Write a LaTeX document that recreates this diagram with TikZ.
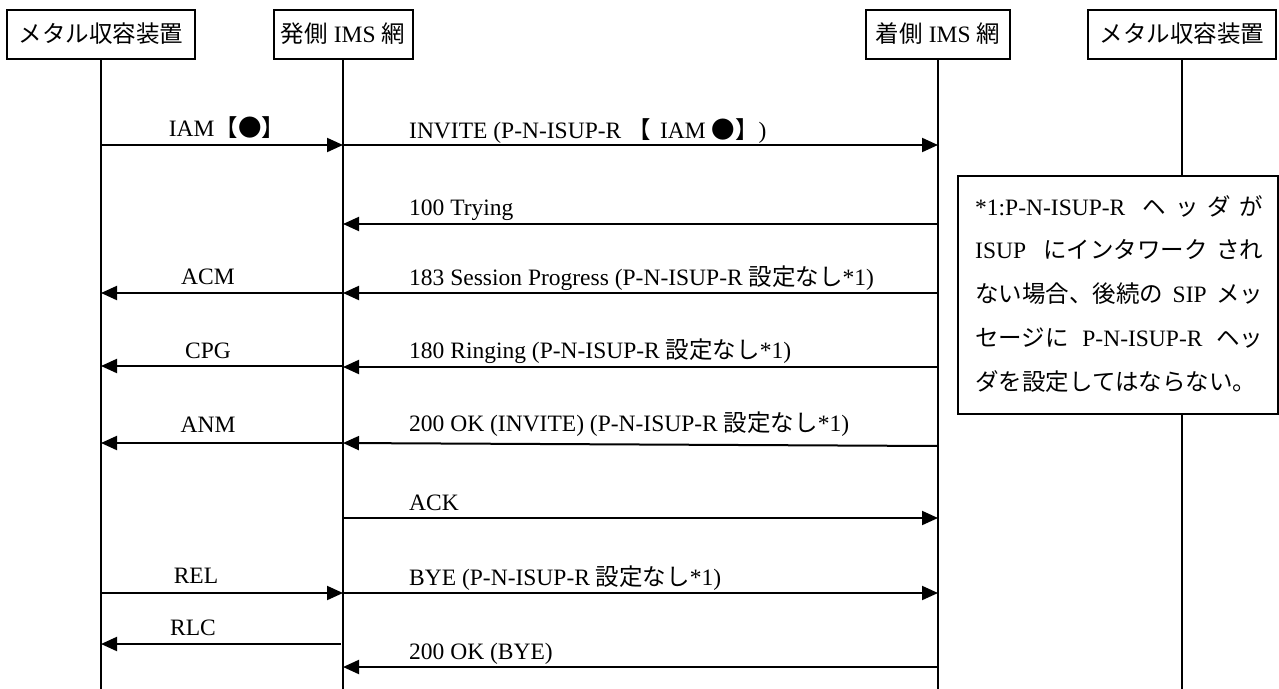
\documentclass[tikz,border=0pt]{standalone}
\usepackage{fontspec}
\setmainfont{Liberation Serif}
\newfontfamily\jp{Noto Sans CJK JP}
\usetikzlibrary{arrows.meta}
\newcommand\J[1]{{\jp #1}}
\begin{document}
\begin{tikzpicture}[x=1pt,y=-1pt,
  font=\fontsize{23.5}{28}\selectfont,
  hdr/.style={draw,line width=2pt,fill=white,minimum height=49pt,inner sep=0pt},
  life/.style={line width=2.5pt},
  msg/.style={line width=2pt,-{Triangle[length=16pt,width=14pt]}},
  lbl/.style={anchor=base west,inner sep=0pt},
  clbl/.style={anchor=base,inner sep=0pt},
  notetxt/.style={anchor=base west,inner sep=0pt}]
\useasboundingbox (0,0) rectangle (1279,688);
% headers
\node[hdr,minimum width=188pt] (m1) at (101,34) {\J{メタル収容装置}};
\node[hdr,minimum width=139pt] (o) at (343,34) {\J{発側} IMS \J{網}};
\node[hdr,minimum width=144pt] (t) at (938,34) {\J{着側} IMS \J{網}};
\node[hdr,minimum width=188pt] (m2) at (1182,34) {\J{メタル収容装置}};
% lifelines
\coordinate (m1b) at (m1.south |- 0,689);
\coordinate (ob) at (o.south |- 0,689);
\coordinate (tb) at (t.south |- 0,689);
\coordinate (m2b) at (m2.south |- 0,689);
\draw[life] (m1.south) -- (m1b);
\draw[life] (o.south) -- (ob);
\draw[life] (t.south) -- (tb);
\draw[life] (m2.south) -- (m2b);
% note box
\node[draw,line width=2pt,fill=white,minimum width=320pt,minimum height=238pt,anchor=north west,inner sep=0pt] (note) at (957,175) {};
\node[notetxt] (n1) at (975,215) {\makebox[288pt][s]{*1:P-N-ISUP-R\hfill\hfill\J{ヘ}\hfill\J{ッ}\hfill\J{ダ}\hfill\J{が}}};
\node[notetxt] (n2) at (975,258) {\makebox[288pt][s]{ISUP\hfill\hfill\J{にインタワーク}\hfill\J{され}}};
\node[notetxt] (n3) at (975,302) {\makebox[288pt][s]{\J{ない場合、後続の}\hfill SIP\hfill\J{メッ}}};
\node[notetxt] (n4) at (975,346) {\makebox[288pt][s]{\J{セージに}\hfill P-N-ISUP-R\hfill\J{ヘッ}}};
\node[notetxt] (n5) at (975,390) {\J{ダを設定してはならない。}};
% messages
\draw[msg] (m1 |- 0,145) -- (o |- 0,145);
\node[clbl] (l1) at (227,136) {IAM\J{【●】}};
\draw[msg] (o |- 0,145) -- (t |- 0,145);
\node[lbl] (l2) at (409,138) {INVITE (P-N-ISUP-R \J{【}\hspace{.4em}IAM \J{●】})};
\draw[msg] (t |- 0,224) -- (o |- 0,224);
\node[lbl] (l3) at (409,215) {100 Trying};
\draw[msg] (o |- 0,293) -- (m1 |- 0,293);
\node[clbl] (l4) at (208,284) {ACM};
\draw[msg] (t |- 0,293) -- (o |- 0,293);
\node[lbl] (l5) at (409,285) {183 Session Progress (P-N-ISUP-R \J{設定なし}*1)};
\draw[msg] (o |- 0,366) -- (m1 |- 0,366);
\node[clbl] (l6) at (208,358) {CPG};
\draw[msg] (t |- 0,367) -- (o |- 0,367);
\node[lbl] (l7) at (409,358) {180 Ringing (P-N-ISUP-R \J{設定なし}*1)};
\draw[msg] (o |- 0,443) -- (m1 |- 0,443);
\node[clbl] (l8) at (208,432) {ANM};
\draw[msg] (t |- 0,446) -- (o |- 0,443);
\node[lbl] (l9) at (409,431) {200 OK (INVITE) (P-N-ISUP-R \J{設定なし}*1)};
\draw[msg] (o |- 0,518) -- (t |- 0,518);
\node[lbl] (l10) at (409,510) {ACK};
\draw[msg] (m1 |- 0,593) -- (o |- 0,593);
\node[clbl] (l11) at (196,583) {REL};
\draw[msg] (o |- 0,593) -- (t |- 0,593);
\node[lbl] (l12) at (409,585) {BYE (P-N-ISUP-R \J{設定なし}*1)};
\coordinate (rlcs) at ([xshift=-2pt]o |- 0,644);
\draw[msg] (rlcs) -- (m1 |- 0,644);
\node[clbl] (l13) at (193,635) {RLC};
\draw[msg] (t |- 0,667) -- (o |- 0,667);
\node[lbl] (l14) at (409,659) {200 OK (BYE)};
\end{tikzpicture}
\end{document}
